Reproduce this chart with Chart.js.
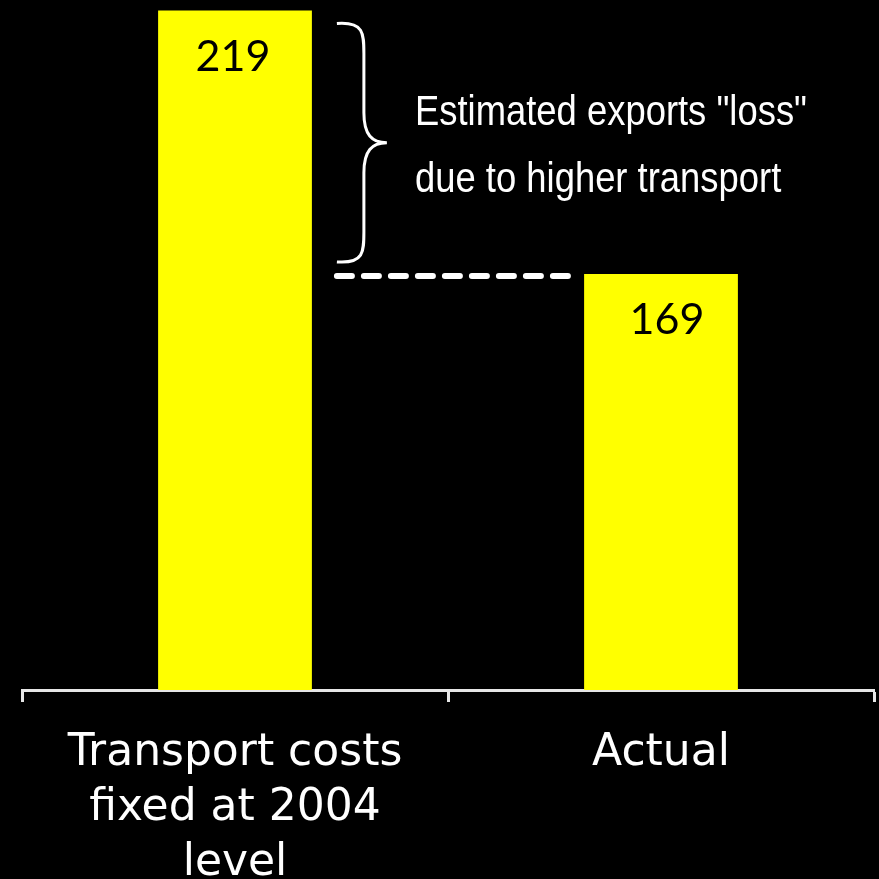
<!DOCTYPE html>
<html>
<head>
<meta charset="utf-8">
<script src="https://cdn.jsdelivr.net/npm/chart.js@4.4.1/dist/chart.umd.min.js"></script>
<style>
  html, body { margin: 0; padding: 0; background: #000; }
  #chartBox { width: 879px; height: 879px; }
</style>
</head>
<body>
<div id="chartBox"><canvas id="myChart"></canvas></div>
<script>
// data
var categories = [['Transport costs', 'fixed at 2004', 'level'], ['Actual']];
var exportsValues = [219, 169];
var noteLines = ['Estimated exports "loss"', 'due to higher transport'];

// value labels, brace, dashed line, note
const notePlugin = {
  id: 'notePlugin',
  afterDatasetsDraw(chart) {
    const ctx = chart.ctx;
    const meta = chart.getDatasetMeta(0);
    const y = chart.scales.y;
    ctx.save();

    // numbers inside the bars
    ctx.fillStyle = '#000';
    ctx.font = '43px Lato';
    ctx.textAlign = 'center';
    ctx.textBaseline = 'alphabetic';
    meta.data.forEach(function(bar, i) {
      ctx.fillText(String(exportsValues[i]), bar.x + (i == 1 ? 6 : -2), bar.y + 60);
    });

    const b0 = meta.data[0], b1 = meta.data[1];
    const yHi = y.getPixelForValue(exportsValues[0]);
    const yLo = y.getPixelForValue(exportsValues[1]);

    // dashed line at the lower value
    ctx.strokeStyle = '#fff';
    ctx.lineWidth = 6;
    ctx.lineCap = 'round';
    ctx.setLineDash([15, 12]);
    ctx.beginPath();
    ctx.moveTo(b0.x + b0.width / 2 + 25, yLo + 2);
    ctx.lineTo(b1.x - b1.width / 2 - 14, yLo + 2);
    ctx.stroke();
    ctx.setLineDash([]);

    // curly brace
    const top = yHi + 13, bot = yLo - 12, mid = (top + bot) / 2;
    const xl = b0.x + b0.width / 2 + 25, xv = xl + 27, xr = xl + 50;
    ctx.lineWidth = 3;
    ctx.lineCap = 'butt';
    ctx.beginPath();
    ctx.moveTo(xl, top);
    ctx.bezierCurveTo(xv, top - 2, xv, top + 10, xv, top + 30);
    ctx.lineTo(xv, mid - 30);
    ctx.bezierCurveTo(xv, mid - 8, xv + 8, mid, xr, mid);
    ctx.bezierCurveTo(xv + 8, mid, xv, mid + 8, xv, mid + 30);
    ctx.lineTo(xv, bot - 30);
    ctx.bezierCurveTo(xv, bot - 10, xv, bot + 2, xl, bot);
    ctx.stroke();

    // note text, squeezed to look like a narrow face
    ctx.fillStyle = '#fff';
    ctx.font = '42px "Liberation Sans", Arial, sans-serif';
    ctx.textAlign = 'left';
    var sx = 392 / ctx.measureText(noteLines[0]).width;
    ctx.translate(415, 0);
    ctx.scale(sx, 1);
    ctx.fillText(noteLines[0], 0, 125);
    ctx.fillText(noteLines[1], 0, 192);
    ctx.restore();
  }
};

const data1 = {
  labels: categories,
  datasets: [{
    data: exportsValues,
    backgroundColor: '#ffff00',
    borderWidth: 0,
    barPercentage: 0.361,
    categoryPercentage: 1
  }]
};

const config1 = {
  type: 'bar',
  data: data1,
  options: {
    responsive: true,
    maintainAspectRatio: false,
    animation: false,
    layout: { padding: { left: 22, right: 5, top: 0, bottom: 0 } },
    plugins: {
      legend: { display: false },
      tooltip: { enabled: false }
    },
    scales: {
      y: {
        display: false,
        min: 90,
        max: 221
      },
      x: {
        afterFit: function(scale) { scale.height = 189; },
        border: { display: true, color: '#e6e6e6', width: 3 },
        grid: {
          offset: true,
          drawOnChartArea: false,
          drawTicks: true,
          tickLength: 12,
          tickWidth: 3,
          tickColor: '#e6e6e6'
        },
        ticks: {
          color: '#fff',
          padding: 24,
          maxRotation: 0,
          autoSkip: false,
          font: { family: '"DejaVu Sans"', size: 44, lineHeight: 1.25 }
        }
      }
    }
  },
  plugins: [notePlugin]
};

const myChart1 = new Chart(document.getElementById('myChart'), config1);
</script>
</body>
</html>
